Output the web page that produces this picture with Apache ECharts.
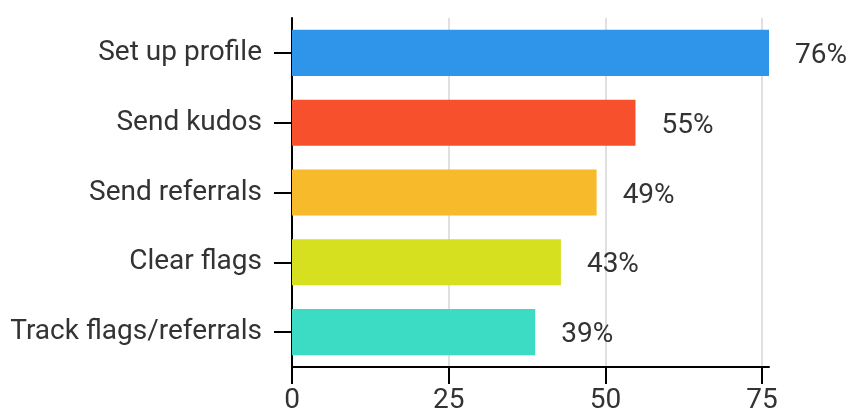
<!DOCTYPE html>
<html><head><meta charset="utf-8">
<script src="https://cdn.jsdelivr.net/npm/echarts@6/dist/echarts.min.js"></script>
<style>html,body{margin:0;padding:0;background:#fff}#c{width:849px;height:409px}</style>
</head><body><div id="c"></div>
<script>
const categories = ["Set up profile","Send kudos","Send referrals","Clear flags","Track flags/referrals"];
const values = [76.1, 54.8, 48.6, 42.9, 38.8];
const colors = ["#2F95EA","#F7502D","#F6BA2A","#D6E01F","#3CDCC4"];
const xTicks = [0, 25, 50, 75];

const chart = echarts.init(document.getElementById('c'));
chart.setOption({
  animation: false,
  grid: {left: 292, right: 80, top: 18, bottom: 42, containLabel: false, outerBoundsMode: 'none'},
  xAxis: {
    type: 'value', min: 0, max: 'dataMax', interval: 25,
    axisLine: {show: true, lineStyle: {color: '#000', width: 2}},
    axisTick: {show: true, length: 17, lineStyle: {color: '#000', width: 2}},
    axisLabel: {fontFamily: 'Roboto', fontSize: 28, color: '#333', margin: 20,
      showMaxLabel: false,
      formatter: v => xTicks.includes(v) ? String(v) : ''},
    splitLine: {show: true, showMinLine: false, showMaxLine: false,
      lineStyle: {color: '#e0e0e0', width: 2}}
  },
  yAxis: {
    type: 'category', data: categories, inverse: true,
    axisLine: {show: true, lineStyle: {color: '#000', width: 2}},
    axisTick: {show: true, length: 18, alignWithLabel: true, lineStyle: {color: '#000', width: 2}},
    axisLabel: {fontFamily: 'Roboto', fontSize: 28, color: '#333', margin: 30, padding: [6, 0, 0, 0]}
  },
  series: [{
    type: 'bar', barCategoryGap: '34%',
    data: values.map((v, i) => ({value: v, itemStyle: {color: colors[i]}})),
    label: {show: true, position: 'right', distance: 26, offset: [0, 3], fontFamily: 'Roboto', fontSize: 28, color: '#333',
      formatter: p => Math.round(p.value) + '%'}
  }]
});
</script></body></html>
